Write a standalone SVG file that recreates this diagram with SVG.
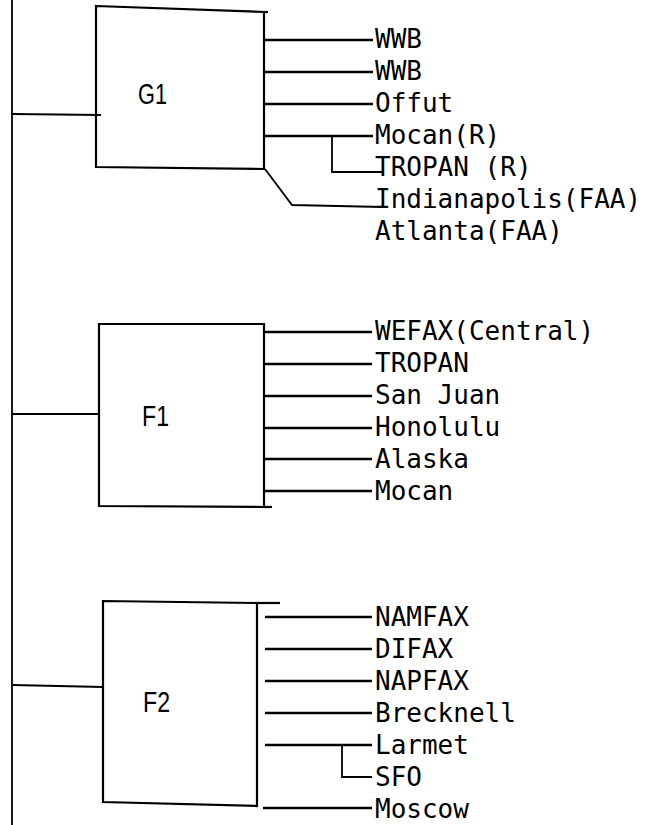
<svg xmlns="http://www.w3.org/2000/svg" width="646" height="825" viewBox="0 0 646 825">
<style>
.box{fill:none;stroke:#000;stroke-width:2.2;stroke-linejoin:miter}
.ln{fill:none;stroke:#000;stroke-width:2.6}
.th{fill:none;stroke:#000;stroke-width:1.8}
.t{font-family:"DejaVu Sans Mono","Liberation Mono",monospace;font-size:26px;fill:#000}
.nl{font-family:"Liberation Sans","DejaVu Sans",sans-serif;font-size:29px;fill:#000}
</style>
<rect width="646" height="825" fill="#fff"/>
<g id="connectors">
<line class="th" x1="12" y1="0" x2="12" y2="825"/>
<line class="th" x1="12" y1="114" x2="101" y2="115"/>
<line class="th" x1="12" y1="414" x2="100" y2="414"/>
<line class="th" x1="13" y1="685" x2="103" y2="687"/>
<!-- G1 outputs -->
<line class="ln" x1="264" y1="40" x2="373" y2="40"/>
<line class="ln" x1="264" y1="72" x2="373" y2="72"/>
<line class="ln" x1="264" y1="104" x2="373" y2="104"/>
<line class="ln" x1="264" y1="136" x2="373" y2="136"/>
<polyline class="th" points="332,136 332,172 383,172"/>
<polyline class="th" points="265,169 292,205 383,207"/>
<!-- F1 outputs -->
<line class="ln" x1="264" y1="332" x2="372" y2="332"/>
<line class="ln" x1="264" y1="364" x2="372" y2="364"/>
<line class="ln" x1="264" y1="396" x2="372" y2="396"/>
<line class="ln" x1="264" y1="428" x2="372" y2="428"/>
<line class="ln" x1="264" y1="459" x2="372" y2="459"/>
<line class="ln" x1="264" y1="491" x2="372" y2="491"/>
<!-- F2 outputs -->
<line class="ln" x1="265" y1="617" x2="372" y2="617"/>
<line class="ln" x1="265" y1="649" x2="372" y2="649"/>
<line class="ln" x1="265" y1="681" x2="372" y2="681"/>
<line class="ln" x1="265" y1="713" x2="372" y2="713"/>
<line class="ln" x1="265" y1="745" x2="372" y2="745"/>
<polyline class="th" points="342,745 342,777 372,777"/>
<line class="ln" x1="263" y1="808" x2="372" y2="808"/>
</g>
<g id="G1">
<polygon class="box" points="96,6 264,12 264,169 96,167"/>
<line class="box" x1="264" y1="12" x2="268" y2="12"/>
<text class="nl" x="138" y="104" textLength="29" lengthAdjust="spacingAndGlyphs">G1</text>
</g>
<g id="F1">
<polygon class="box" points="99,324 264,324 264,507 99,506"/>
<line class="box" x1="264" y1="507" x2="272" y2="507"/>
<text class="nl" x="142" y="426" textLength="27" lengthAdjust="spacingAndGlyphs">F1</text>
</g>
<g id="F2">
<polygon class="box" points="103,601 257,603 257,806 103,802"/>
<line class="box" x1="257" y1="603" x2="280" y2="603"/>
<text class="nl" x="143" y="712" textLength="27" lengthAdjust="spacingAndGlyphs">F2</text>
</g>
<g id="G1-destinations">
<text class="t" x="375" y="48">WWB</text>
<text class="t" x="375" y="80">WWB</text>
<text class="t" x="375" y="112">Offut</text>
<text class="t" x="375" y="144">Mocan(R)</text>
<text class="t" x="375" y="176">TROPAN (R)</text>
<text class="t" x="375" y="208">Indianapolis(FAA)</text>
<text class="t" x="375" y="240">Atlanta(FAA)</text>
</g>
<g id="F1-destinations">
<text class="t" x="375" y="340">WEFAX(Central)</text>
<text class="t" x="375" y="372">TROPAN</text>
<text class="t" x="375" y="404">San Juan</text>
<text class="t" x="375" y="436">Honolulu</text>
<text class="t" x="375" y="468">Alaska</text>
<text class="t" x="375" y="500">Mocan</text>
</g>
<g id="F2-destinations">
<text class="t" x="375" y="626">NAMFAX</text>
<text class="t" x="375" y="658">DIFAX</text>
<text class="t" x="375" y="690">NAPFAX</text>
<text class="t" x="375" y="722">Brecknell</text>
<text class="t" x="375" y="754">Larmet</text>
<text class="t" x="375" y="786">SFO</text>
<text class="t" x="375" y="818">Moscow</text>
</g>
</svg>
